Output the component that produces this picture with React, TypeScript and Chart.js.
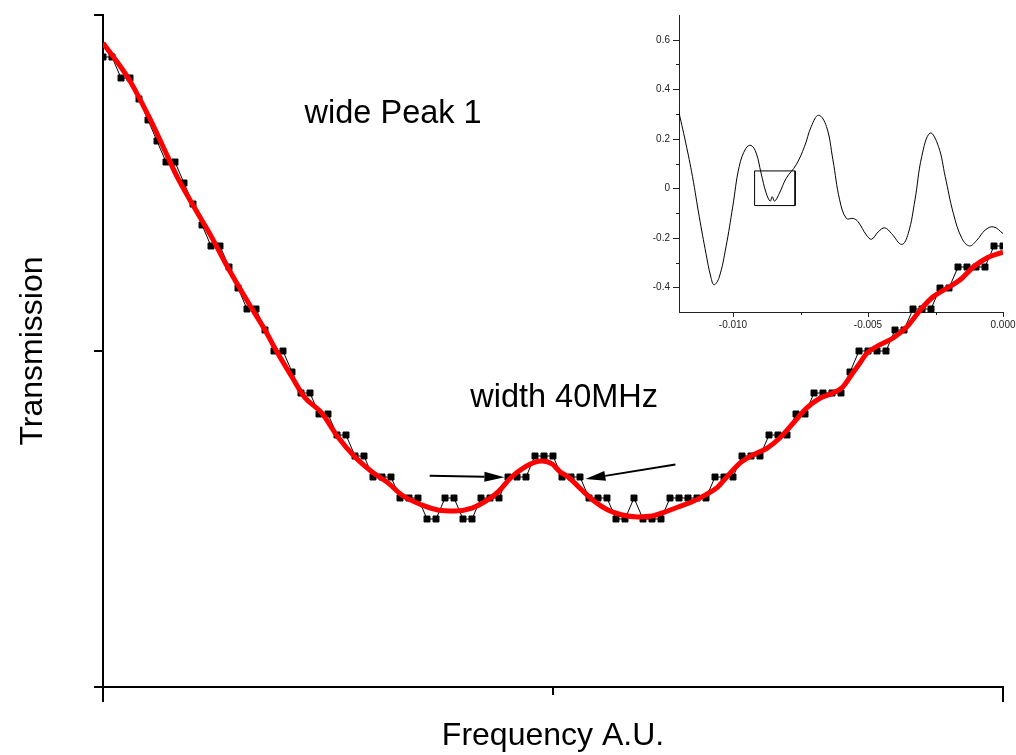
import React, { useEffect, useRef } from "react";
import { Chart, registerables } from "chart.js";

Chart.register(...registerables);

// ---- Main chart data (x: frequency step, A.U.; y: transmission level, arbitrary units) ----
const transmissionLevels = [
  30, 30, 29, 29, 28, 27, 26, 25, 25, 24,
  23, 22, 21, 21, 20, 19, 18, 18, 17, 16,
  16, 15, 14, 14, 13, 13, 12, 12, 11, 11,
  10, 10, 10, 9, 9, 9, 8, 8, 9, 9,
  8, 8, 9, 9, 9, 10, 10, 10, 11, 11,
  11, 10, 10, 10, 9, 9, 9, 8, 8, 9,
  8, 8, 8, 9, 9, 9, 9, 9, 10, 10,
  10, 11, 11, 11, 12, 12, 12, 13, 13, 14,
  14, 14, 14, 15, 16, 16, 16, 16, 17, 17,
  18, 18, 18, 19, 19, 20, 20, 20, 20, 21,
  21,
];
const frequencySteps = transmissionLevels.map((_, i) => i);

// Smooth fit (red)
const fitX = [
  0, 2.8, 5, 6.6, 8.3, 10.2, 12.1, 13.9, 16.1, 18,
  19.4, 21, 22.4, 24.3, 26.1, 28, 29.9, 31.7, 33.2, 35.4,
  37.2, 39.1, 41, 42.4, 43.9, 45.4, 46.9, 48, 48.8, 49.9,
  50.8, 51.7, 53.2, 54.7, 56.1, 57.7, 59.4, 61, 62.4, 63.9,
  65.4, 66.9, 68.3, 69.3, 70.8, 72.2, 73.8, 75.2, 76.7, 78.2,
  79.7, 81.1, 82.2, 83.3, 84.1, 84.9, 86.3, 87.8, 89.3, 90.8,
  92.2, 93.8, 95.2, 96.7, 98.2, 100,
];
const fitY = [
  30.67, 29.0, 27.24, 25.8, 24.24, 22.8, 21.4, 19.95, 18.33, 17.0,
  15.9, 14.76, 13.8, 13.05, 11.9, 10.95, 10.24, 9.71, 9.14, 8.67,
  8.43, 8.38, 8.52, 8.81, 9.29, 10.0, 10.48, 10.71, 10.76, 10.62,
  10.24, 10.0, 9.38, 8.81, 8.43, 8.19, 8.1, 8.14, 8.33, 8.57,
  8.81, 9.14, 9.52, 10.0, 10.67, 11.05, 11.38, 11.86, 12.57, 13.29,
  13.76, 14.0, 14.29, 14.95, 15.43, 15.9, 16.29, 16.62, 17.14, 17.95,
  18.57, 19.0, 19.38, 20.0, 20.43, 20.71,
];

const mainXTicks = [0, 50, 100];
const mainYTicks = [0, 16, 32];

// ---- Inset data ----
const insetX = [
  -0.01204, -0.01175, -0.0115, -0.01125, -0.011, -0.01082, -0.0107, -0.01051, -0.01026, -0.01001,
  -0.00977, -0.00952, -0.00933, -0.00914, -0.00896, -0.00877, -0.00862, -0.00855, -0.00846, -0.00828,
  -0.00803, -0.00766, -0.00735, -0.0071, -0.00683, -0.00654, -0.0063, -0.00605, -0.0058, -0.00555,
  -0.00537, -0.00506, -0.00487, -0.00462, -0.00438, -0.00413, -0.00375, -0.00351, -0.00326, -0.00301,
  -0.0027, -0.00239, -0.00214, -0.00184, -0.00152, -0.00124, -0.00097, -0.00066, -0.00035, 0,
];
const insetY = [
  0.325, 0.183, 0.047, -0.115, -0.264, -0.359, -0.39, -0.359, -0.237, -0.075,
  0.088, 0.162, 0.173, 0.142, 0.061, -0.02, -0.052, -0.034, -0.052, -0.02,
  0.04, 0.095, 0.169, 0.25, 0.295, 0.25, 0.115, -0.047, -0.122, -0.122,
  -0.135, -0.189, -0.206, -0.176, -0.16, -0.183, -0.227, -0.183, -0.047, 0.128,
  0.223, 0.169, 0.047, -0.101, -0.203, -0.233, -0.21, -0.169, -0.156, -0.183,
];
const boxX = [-0.0092, -0.0077, -0.0077, -0.0092, -0.0092];
const boxY = [0.07, 0.07, -0.07, -0.07, 0.07];

const insetXMajor = [-0.01, -0.005, 0];
const insetXMinor = [-0.0075, -0.0025];
const insetYMajor = [-0.4, -0.2, 0, 0.2, 0.4, 0.6];
const insetYMinor = [-0.3, -0.1, 0.1, 0.3, 0.5];

const FONT = '"Liberation Sans", Arial, Helvetica, sans-serif';

function drawArrow(ctx: CanvasRenderingContext2D, x1: number, y1: number, x2: number, y2: number) {
  const ang = Math.atan2(y2 - y1, x2 - x1);
  const headLen = 20;
  const headHalf = 5;
  const bx = x2 - headLen * Math.cos(ang);
  const by = y2 - headLen * Math.sin(ang);
  ctx.save();
  ctx.strokeStyle = "#000";
  ctx.fillStyle = "#000";
  ctx.lineWidth = 2;
  ctx.beginPath();
  ctx.moveTo(x1, y1);
  ctx.lineTo(bx, by);
  ctx.stroke();
  ctx.beginPath();
  ctx.moveTo(x2, y2);
  ctx.lineTo(bx + headHalf * Math.sin(ang), by - headHalf * Math.cos(ang));
  ctx.lineTo(bx - headHalf * Math.sin(ang), by + headHalf * Math.cos(ang));
  ctx.closePath();
  ctx.fill();
  ctx.restore();
}

const mainDecor = {
  id: "mainDecor",
  afterDraw(chart: any) {
    const ctx = chart.ctx as CanvasRenderingContext2D;
    const xs = chart.scales.x;
    const ys = chart.scales.y;
    const { left, bottom } = chart.chartArea;
    ctx.save();
    ctx.strokeStyle = "#000";
    ctx.lineWidth = 2;
    mainXTicks.forEach((v, i) => {
      const px = xs.getPixelForValue(v);
      const len = i === 1 ? 8 : 15;
      ctx.beginPath();
      ctx.moveTo(px, bottom);
      ctx.lineTo(px, bottom + len);
      ctx.stroke();
    });
    mainYTicks.forEach((v) => {
      const py = ys.getPixelForValue(v);
      ctx.beginPath();
      ctx.moveTo(left, py);
      ctx.lineTo(left - 9, py);
      ctx.stroke();
    });
    ctx.fillStyle = "#000";
    ctx.font = `32.5px ${FONT}`;
    ctx.textAlign = "left";
    ctx.textBaseline = "alphabetic";
    ctx.fillText("wide Peak 1", xs.getPixelForValue(22.4), ys.getPixelForValue(26.86));
    ctx.fillText("width 40MHz", xs.getPixelForValue(40.8), ys.getPixelForValue(13.33));
    drawArrow(ctx, xs.getPixelForValue(36.3), ys.getPixelForValue(10.06), xs.getPixelForValue(44.6), ys.getPixelForValue(9.99));
    drawArrow(ctx, xs.getPixelForValue(63.6), ys.getPixelForValue(10.6), xs.getPixelForValue(53.6), ys.getPixelForValue(9.9));
    ctx.restore();
  },
};

const insetDecor = {
  id: "insetDecor",
  afterDraw(chart: any) {
    const ctx = chart.ctx as CanvasRenderingContext2D;
    const xs = chart.scales.x;
    const ys = chart.scales.y;
    const { left, bottom } = chart.chartArea;
    ctx.save();
    ctx.strokeStyle = "#222";
    ctx.lineWidth = 1;
    const tick = (x1: number, y1: number, x2: number, y2: number) => {
      ctx.beginPath();
      ctx.moveTo(x1, y1);
      ctx.lineTo(x2, y2);
      ctx.stroke();
    };
    insetXMajor.forEach((v) => { const p = Math.round(xs.getPixelForValue(v)) + 0.5; tick(p, bottom, p, bottom + 5); });
    insetXMinor.forEach((v) => { const p = Math.round(xs.getPixelForValue(v)) + 0.5; tick(p, bottom, p, bottom + 3); });
    insetYMajor.forEach((v) => { const p = Math.round(ys.getPixelForValue(v)) + 0.5; tick(left, p, left - 6, p); });
    insetYMinor.forEach((v) => { const p = Math.round(ys.getPixelForValue(v)) + 0.5; tick(left, p, left - 3, p); });
    ctx.restore();
  },
};

export default function App() {
  const mainRef = useRef<HTMLCanvasElement>(null);
  const insetRef = useRef<HTMLCanvasElement>(null);

  useEffect(() => {
    document.body.style.margin = "0";
    Chart.defaults.font.family = FONT;

    const inset = new Chart(insetRef.current as HTMLCanvasElement, {
      type: "line",
      data: {
        datasets: [
          {
            data: insetX.map((x, i) => ({ x, y: insetY[i] })),
            borderColor: "#000",
            borderWidth: 1,
            pointRadius: 0,
            tension: 0.4,
            fill: false,
          },
          {
            data: boxX.map((x, i) => ({ x, y: boxY[i] })),
            borderColor: "#000",
            borderWidth: 1,
            pointRadius: 0,
            tension: 0,
            fill: false,
          },
        ],
      },
      options: {
        responsive: false,
        animation: false,
        devicePixelRatio: 1,
        layout: { padding: { left: 0, right: 13, top: 15, bottom: 0 } },
        plugins: { legend: { display: false }, tooltip: { enabled: false } },
        scales: {
          x: {
            type: "linear",
            min: -0.012,
            max: 0,
            afterBuildTicks: (s: any) => {
              s.ticks = insetXMajor.map((v) => ({ value: v }));
            },
            ticks: {
              autoSkip: false,
              maxRotation: 0,
              padding: 7,
              color: "#222",
              font: { size: 10, family: FONT },
              callback: (v: any) => Number(v).toFixed(3),
            },
            grid: { display: false, drawTicks: false },
            border: { display: true, color: "#222", width: 1 },
            afterFit: (s: any) => { s.height = 33; s.paddingLeft = 0; s.paddingRight = 0; },
          },
          y: {
            type: "linear",
            min: -0.5,
            max: 0.7,
            afterBuildTicks: (s: any) => {
              s.ticks = insetYMajor.map((v) => ({ value: v }));
            },
            ticks: {
              autoSkip: false,
              padding: 9,
              color: "#222",
              font: { size: 10, family: FONT },
              callback: (v: any) => (Math.abs(Number(v)) < 1e-9 ? "0" : Number(v).toFixed(1)),
            },
            grid: { display: false, drawTicks: false },
            border: { display: true, color: "#222", width: 1 },
            afterFit: (s: any) => { s.width = 59; s.paddingTop = 0; s.paddingBottom = 0; },
          },
        },
      },
      plugins: [insetDecor],
    } as any);

    const main = new Chart(mainRef.current as HTMLCanvasElement, {
      type: "line",
      data: {
        datasets: [
          {
            label: "fit",
            data: fitX.map((x, i) => ({ x, y: fitY[i] })),
            borderColor: "#ff0000",
            borderWidth: 5,
            pointRadius: 0,
            cubicInterpolationMode: "monotone",
            fill: false,
          },
          {
            label: "measured",
            data: transmissionLevels.map((y, i) => ({ x: frequencySteps[i], y })),
            borderColor: "#000",
            borderWidth: 1,
            pointStyle: "rect",
            pointRadius: 4.2,
            pointBackgroundColor: "#000",
            pointBorderColor: "#000",
            pointBorderWidth: 1,
            tension: 0,
            fill: false,
          },
        ],
      },
      options: {
        responsive: false,
        animation: false,
        devicePixelRatio: 1,
        layout: { padding: { left: 0, right: 13, top: 15, bottom: 0 } },
        plugins: { legend: { display: false }, tooltip: { enabled: false } },
        scales: {
          x: {
            type: "linear",
            min: 0,
            max: 100,
            ticks: { display: false },
            grid: { display: false, drawTicks: false },
            border: { display: true, color: "#000", width: 2 },
            title: {
              display: true,
              text: "Frequency A.U.",
              color: "#000",
              font: { size: 32, family: FONT },
              padding: { top: 0, bottom: 0 },
            },
            afterFit: (s: any) => { s.height = 68; },
          },
          y: {
            type: "linear",
            min: 0,
            max: 32,
            ticks: { display: false },
            grid: { display: false, drawTicks: false },
            border: { display: true, color: "#000", width: 2 },
            title: {
              display: true,
              text: "Transmission",
              color: "#000",
              font: { size: 32, family: FONT },
              padding: { top: 14, bottom: 0 },
            },
            afterFit: (s: any) => { s.width = 103; },
          },
        },
      },
      plugins: [mainDecor],
    } as any);

    return () => {
      main.destroy();
      inset.destroy();
    };
  }, []);

  return (
    <div style={{ position: "relative", width: 1016, height: 755, background: "#fff" }}>
      <canvas ref={insetRef} width={396} height={345} style={{ position: "absolute", left: 620, top: 0 }} />
      <canvas ref={mainRef} width={1016} height={755} style={{ position: "absolute", left: 0, top: 0 }} />
    </div>
  );
}
